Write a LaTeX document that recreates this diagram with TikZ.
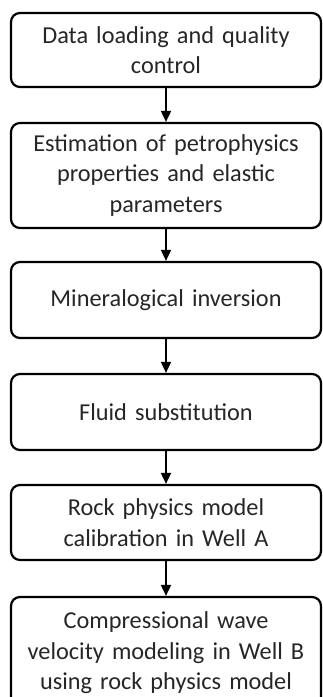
\documentclass[tikz,border=0pt]{standalone}
\usepackage{fontspec}
\setmainfont{Carlito}
\usetikzlibrary{arrows.meta}
\begin{document}
\begin{tikzpicture}[x=1pt,y=-1pt,
  stepbox/.style={draw=black, line width=2.2pt, rounded corners=9pt, minimum width=310pt,
    text width=304pt, align=center, inner sep=0pt, text=black!85,
    font=\fontsize{24.3}{30.5}\selectfont},
  flow/.style={-{Triangle[width=10pt,length=11pt]}, line width=1.8pt, draw=black}]
\useasboundingbox (0,0) rectangle (322,697);
\begin{scope}
\clip (0,0) rectangle (322,697);
\node[stepbox, minimum height=74pt] (b1) at (166,50) {Data loading and quality\\control};
\node[stepbox, minimum height=105pt] (b2) at (166,175.5) {Estimation of petrophysics\\properties and elastic\\parameters};
\node[stepbox, minimum height=76pt] (b3) at (166,300) {Mineralogical inversion};
\node[stepbox, minimum height=76pt] (b4) at (166,412) {Fluid substitution};
\node[stepbox, minimum height=75pt] (b5) at (166,522.5) {Rock physics model\\calibration in Well A};
\node[stepbox, minimum height=112pt] (b6) at (166,653) {Compressional wave\\velocity modeling in Well B\\using rock physics model};
\draw[flow] (b1) -- (b2);
\draw[flow] (b2) -- (b3);
\draw[flow] (b3) -- (b4);
\draw[flow] (b4) -- (b5);
\draw[flow] (b5) -- (b6);
\end{scope}
\end{tikzpicture}
\end{document}
